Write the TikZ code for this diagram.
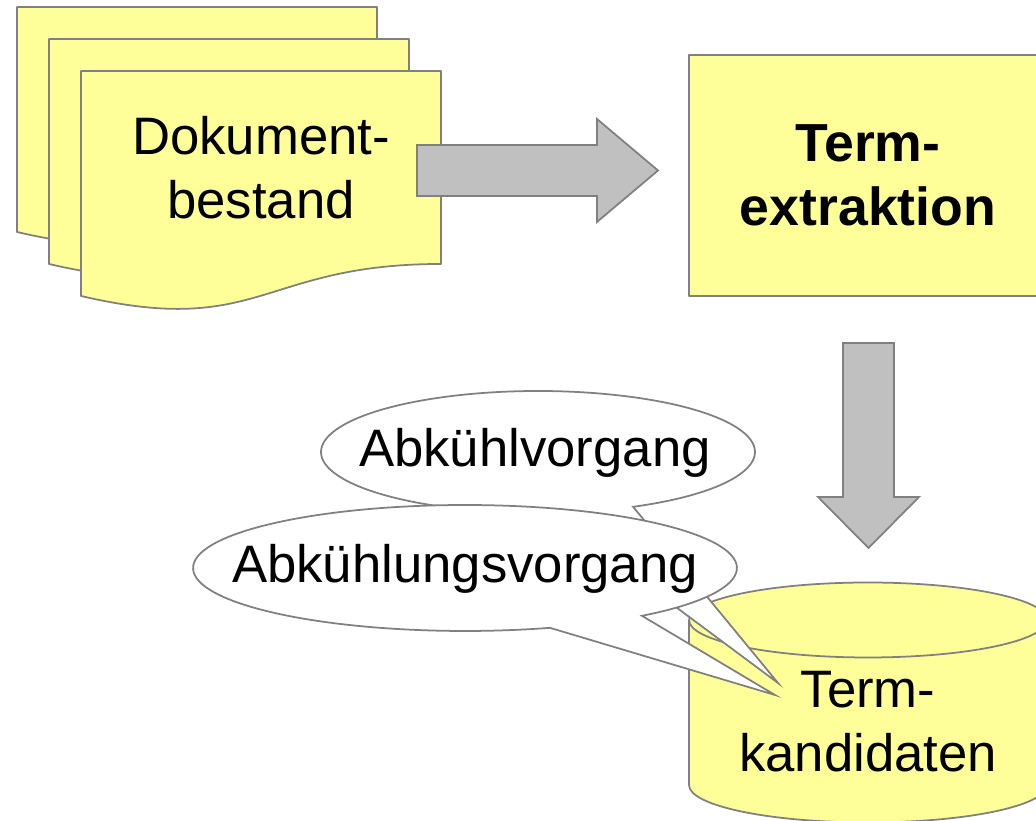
\documentclass[tikz,border=0pt]{standalone}
\usepackage{fontspec}
\setmainfont{Liberation Sans}
\definecolor{paper}{HTML}{FFFF99}
\definecolor{rim}{HTML}{808080}
\definecolor{shade}{HTML}{C0C0C0}
\tikzset{
  every node/.style={font=\fontsize{30}{36.4}\selectfont, align=center},
  sheet/.style={draw=rim, fill=paper, line width=1pt, line join=round},
  block/.style={sheet, rectangle, minimum width=7.16cm, minimum height=4.82cm},
  bigarrow/.style={draw=rim, fill=shade, line width=1pt, line join=miter},
  bubble/.style={draw=rim, fill=white, line width=1pt, line join=miter},
}

\begin{document}
\begin{tikzpicture}[x=0.02cm, y=0.02cm]
        \useasboundingbox (0,0) rectangle (1036,821);

        % documents
        \foreach \k in {0,1,2}
          \draw[sheet, shift={(17+32*\k, 814-32*\k)}]
            (0,0) -- (360,0) -- (360,-193)
            .. controls (180,-193) and (180,-267) .. (0,-225) -- cycle;
        \node (d) at (261,653.5) {Dokument-\\bestand};

        % extraction
        \node[block, font=\fontsize{30.5}{36.4}\selectfont\bfseries] (e) at (868,645.5) {Term-\\extraktion};

        % big arrows
        \draw[bigarrow] (417,676) -- (597,676) -- (597,702) -- (658,650.5)
                        -- (597,599) -- (597,625) -- (417,625) -- cycle;
        \draw[bigarrow] (843,478) -- (894,478) -- (894,324) -- (919,324)
                        -- (868.5,273) -- (818,324) -- (843,324) -- cycle;

        % candidates
        \draw[sheet] (689,201) -- (689,36)
            arc[start angle=180, end angle=360, x radius=3.58cm, y radius=0.75cm]
            -- (1047,201)
            arc[start angle=0, end angle=180, x radius=3.58cm, y radius=0.75cm] -- cycle;
        \draw[sheet, fill=none] (689,201)
            arc[start angle=180, end angle=360, x radius=3.58cm, y radius=0.75cm];
        \node (k) at (868,99) {Term-\\kandidaten};

        % callouts
        \coordinate (p1) at (778,138);
        \coordinate (p2) at (775,126);
        \draw[bubble] (538,369) ++(-64:4.34cm and 1.22cm)
            arc[start angle=-64, end angle=273, x radius=4.34cm, y radius=1.22cm]
            -- (p1) -- cycle;
        \node (v1) at (535,368) {Abkühlvorgang};
        \draw[bubble] (465,253) ++(-49.4:5.44cm and 1.26cm)
            arc[start angle=-49.4, end angle=288.2, x radius=5.44cm, y radius=1.26cm]
            -- (p2) -- cycle;
        \node (v2) at (465,252) {Abkühlungsvorgang};
\end{tikzpicture}
\end{document}
